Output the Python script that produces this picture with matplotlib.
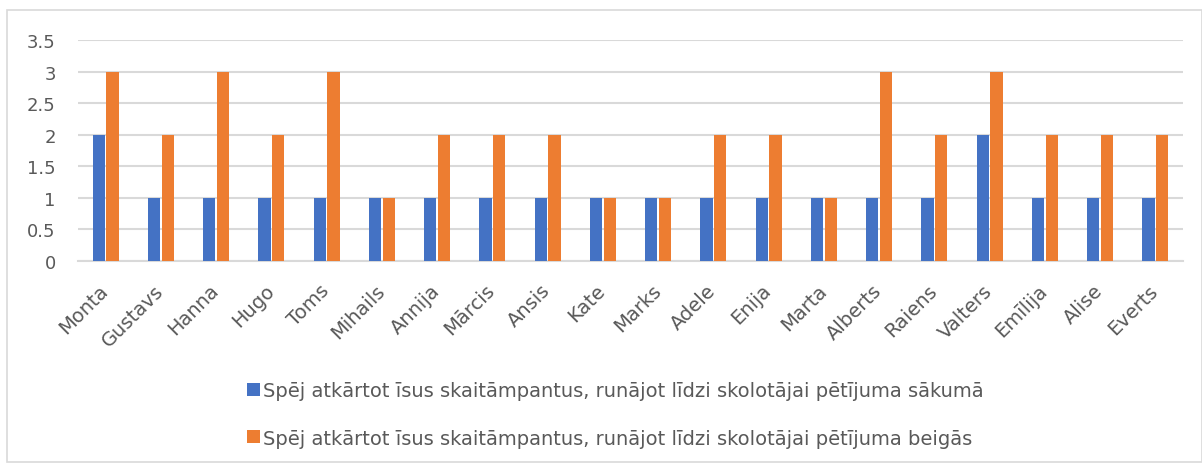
import numpy as np
import matplotlib.pyplot as plt
import matplotlib.transforms as mtransforms
from matplotlib.patches import Rectangle

names = ["Monta", "Gustavs", "Hanna", "Hugo", "Toms", "Mihails", "Annija", "Mārcis",
         "Ansis", "Kate", "Marks", "Adele", "Enija", "Marta", "Alberts", "Raiens",
         "Valters", "Emīlija", "Alise", "Everts"]
start = [2, 1, 1, 1, 1, 1, 1, 1, 1, 1, 1, 1, 1, 1, 1, 1, 2, 1, 1, 1]
end = [3, 2, 3, 2, 3, 1, 2, 2, 2, 1, 1, 2, 2, 1, 3, 2, 3, 2, 2, 2]
labels = ["Spēj atkārtot īsus skaitāmpantus, runājot līdzi skolotājai pētījuma sākumā",
          "Spēj atkārtot īsus skaitāmpantus, runājot līdzi skolotājai pētījuma beigās"]
yticks = [0, 0.5, 1, 1.5, 2, 2.5, 3, 3.5]

plt.rcParams['font.family'] = ['DejaVu Sans']
blue = "#4472C4"
orange = "#ED7D31"
txt = "#595959"

fig = plt.figure(figsize=(12.02, 4.64), dpi=100)
fig.patches.append(Rectangle((7 / 1202, 0.002), 1 - 7 / 1202, 1 - 11 / 464 - 0.002,
                             transform=fig.transFigure, fill=False,
                             edgecolor="#d9d9d9", linewidth=1.2))

ax = fig.add_axes([78 / 1202, 1 - 262 / 464, (1183 - 78) / 1202, (262 - 41) / 464])
x = np.arange(len(names))
w = 0.22
ax.bar(x - 0.125, start, w, color=blue, label=labels[0], zorder=3)
ax.bar(x + 0.125, end, w, color=orange, label=labels[1], zorder=3)

ax.set_xlim(-0.5, len(names) - 0.5)
ax.set_ylim(0, 3.5)
ax.set_yticks(yticks)
ax.set_yticklabels([f"{v:g}" for v in yticks])
ax.yaxis.grid(True, color="#d9d9d9", linewidth=1.5, zorder=0)
ax.set_axisbelow(True)
for s in ["top", "right", "left"]:
    ax.spines[s].set_visible(False)
ax.spines["bottom"].set_color("#d9d9d9")
ax.spines["bottom"].set_linewidth(1.5)
ax.tick_params(axis="both", length=0, colors=txt)
ax.tick_params(axis="y", pad=16, labelsize=13)
ax.set_xticks(x)
ax.set_xticklabels(names, rotation=45, ha="right", rotation_mode="anchor")
ax.tick_params(axis="x", pad=14, labelsize=14)
shift = mtransforms.ScaledTranslation(-7 / 100, 0, fig.dpi_scale_trans)
for lab in ax.get_xticklabels():
    lab.set_transform(lab.get_transform() + shift)

fig.legend(loc="center left", bbox_to_anchor=(247 / 1202, 1 - 415.5 / 464),
           frameon=False, fontsize=14, labelcolor=txt, handlelength=0.68,
           handleheight=0.68, handletextpad=0.12, labelspacing=1.45,
           borderpad=0, borderaxespad=0)

fig.savefig("out.png", dpi=100)
